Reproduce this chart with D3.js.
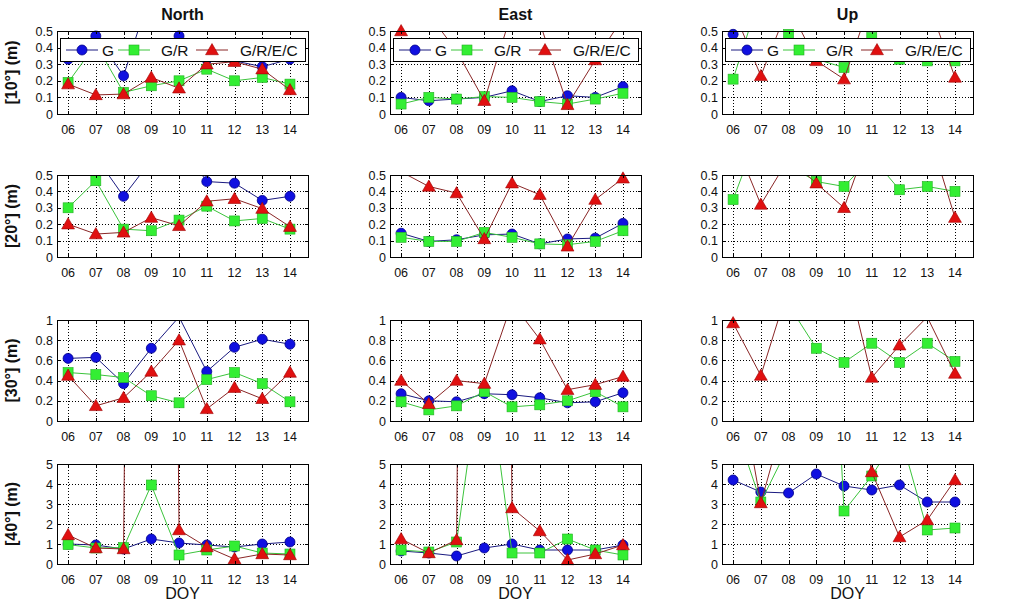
<!DOCTYPE html>
<html><head><meta charset="utf-8">
<script src="https://cdn.jsdelivr.net/npm/d3@7"></script>
<style>
body{margin:0;background:#fff}
svg{display:block}
text{font-family:"Liberation Sans",Arial,sans-serif;fill:#111}
</style>
</head><body><svg id="c" width="1023" height="604"></svg>
<script>
// ---------------- data ----------------
const days = ["06","07","08","09","10","11","12","13","14"];
const components = ["North","East","Up"];
const rowLabels = ["[10°] (m)","[20°] (m)","[30°] (m)","[40°] (m)"];
const seriesNames = ["G","G/R","G/R/E/C"];
const yTicksRow1 = [0,0.1,0.2,0.3,0.4,0.5];
const yTicksRow2 = [0,0.1,0.2,0.3,0.4,0.5];
const yTicksRow3 = [0,0.2,0.4,0.6,0.8,1];
const yTicksRow4 = [0,1,2,3,4,5];
const yTickLabelsRow1 = ["0","0.1","0.2","0.3","0.4","0.5"];
const yTickLabelsRow2 = ["0","0.1","0.2","0.3","0.4","0.5"];
const yTickLabelsRow3 = ["0","0.2","0.4","0.6","0.8","1"];
const yTickLabelsRow4 = ["0","1","2","3","4","5"];

// 10 deg
const north10_G    = [0.33, 0.47, 0.23, 0.75, 0.47, 0.33, 0.32, 0.285, 0.33];
const north10_GR   = [0.19, 0.42, 0.13, 0.17, 0.20, 0.27, 0.20, 0.22, 0.18];
const north10_GREC = [0.18, 0.115, 0.12, 0.22, 0.155, 0.30, 0.315, 0.27, 0.145];
const east10_G     = [0.10, 0.08, 0.09, 0.10, 0.14, 0.075, 0.11, 0.10, 0.165];
const east10_GR    = [0.06, 0.10, 0.09, 0.105, 0.10, 0.075, 0.06, 0.09, 0.125];
const east10_GREC  = [0.50, 0.60, 0.38, 0.08, 0.62, 0.55, 0.055, 0.325, 0.58];
const up10_G       = [0.48, 0.62, 0.75, 0.66, 0.62, 0.70, 0.65, 0.60, 0.58];
const up10_GR      = [0.21, 0.73, 0.48, 0.33, 0.28, 0.46, 0.33, 0.32, 0.32];
const up10_GREC    = [0.63, 0.23, 0.65, 0.32, 0.21, 0.70, 0.75, 0.69, 0.22];
// 20 deg
const north20_G    = [0.65, 0.61, 0.37, 0.59, 0.70, 0.46, 0.45, 0.345, 0.37];
const north20_GR   = [0.30, 0.465, 0.17, 0.16, 0.225, 0.31, 0.22, 0.235, 0.17];
const north20_GREC = [0.20, 0.14, 0.15, 0.24, 0.19, 0.34, 0.355, 0.295, 0.185];
const east20_G     = [0.145, 0.095, 0.105, 0.135, 0.14, 0.08, 0.11, 0.115, 0.205];
const east20_GR    = [0.12, 0.095, 0.095, 0.15, 0.12, 0.08, 0.075, 0.095, 0.16];
const east20_GREC  = [0.52, 0.43, 0.39, 0.11, 0.45, 0.38, 0.065, 0.35, 0.48];
const up20_G       = [0.80, 0.90, 0.85, 0.95, 0.80, 0.85, 0.75, 0.70, 0.75];
const up20_GR      = [0.35, 0.80, 0.56, 0.46, 0.43, 0.61, 0.41, 0.43, 0.40];
const up20_GREC    = [0.73, 0.32, 0.60, 0.45, 0.30, 0.77, 0.80, 0.79, 0.24];
// 30 deg
const north30_G    = [0.62, 0.63, 0.37, 0.72, 1.03, 0.49, 0.73, 0.81, 0.76];
const north30_GR   = [0.48, 0.46, 0.43, 0.25, 0.18, 0.41, 0.48, 0.37, 0.19];
const north30_GREC = [0.45, 0.15, 0.23, 0.49, 0.80, 0.12, 0.33, 0.22, 0.48];
const east30_G     = [0.27, 0.20, 0.19, 0.27, 0.26, 0.23, 0.18, 0.19, 0.28];
const east30_GR    = [0.19, 0.11, 0.15, 0.29, 0.14, 0.16, 0.20, 0.29, 0.14];
const east30_GREC  = [0.40, 0.17, 0.40, 0.37, 1.17, 0.81, 0.31, 0.36, 0.44];
const up30_G       = [1.40, 1.30, 1.50, 1.60, 1.40, 1.35, 1.50, 1.30, 1.40];
const up30_GR      = [1.30, 1.40, 1.15, 0.72, 0.58, 0.77, 0.58, 0.77, 0.59];
const up30_GREC    = [0.97, 0.45, 1.33, 1.40, 1.57, 0.43, 0.75, 1.03, 0.47];
// 40 deg
const north40_G    = [1.0, 0.95, 0.75, 1.25, 1.05, 0.95, 0.85, 1.0, 1.1];
const north40_GR   = [0.97, 0.8, 0.82, 3.95, 0.45, 0.7, 0.9, 0.55, 0.5];
const north40_GREC = [1.45, 0.8, 0.75, 150, 1.7, 0.85, 0.25, 0.5, 0.45];
const east40_G     = [0.65, 0.55, 0.4, 0.8, 1.0, 0.7, 0.7, 0.7, 0.95];
const east40_GR    = [0.7, 0.6, 1.1, 11, 0.55, 0.55, 1.25, 0.7, 0.45];
const east40_GREC  = [1.25, 0.55, 1.2, 150, 2.8, 1.65, 0.2, 0.5, 0.95];
const up40_G       = [4.2, 3.6, 3.55, 4.5, 3.9, 3.7, 3.95, 3.1, 3.1];
const up40_GR      = [7.2, 3.1, 5.9, 29, 2.65, 4.4, 6.6, 1.7, 1.8];
const up40_GREC    = [10.8, 3.05, 8, 9, 12, 4.6, 1.35, 2.2, 4.2];

// ---------------- assemble ----------------
const panelSeries = [
  [[north10_G,north10_GR,north10_GREC],[east10_G,east10_GR,east10_GREC],[up10_G,up10_GR,up10_GREC]],
  [[north20_G,north20_GR,north20_GREC],[east20_G,east20_GR,east20_GREC],[up20_G,up20_GR,up20_GREC]],
  [[north30_G,north30_GR,north30_GREC],[east30_G,east30_GR,east30_GREC],[up30_G,up30_GR,up30_GREC]],
  [[north40_G,north40_GR,north40_GREC],[east40_G,east40_GR,east40_GREC],[up40_G,up40_GR,up40_GREC]]
];
const rowTicks = [yTicksRow1,yTicksRow2,yTicksRow3,yTicksRow4];
const rowTickLabels = [yTickLabelsRow1,yTickLabelsRow2,yTickLabelsRow3,yTickLabelsRow4];

// ---------------- layout & style ----------------
const colLeft = [57, 390, 722];
const panelW = 251;
const rowTop = [31, 175, 320, 464];
const rowH = [83, 82, 101, 100];
const lineColors = ["#1a1a80", "#3cc43c", "#8a2626"];
const markFill = ["#1010e0", "#33ee33", "#e01010"];
const markStroke = ["#00008a", "#22b022", "#a00000"];

const svg = d3.select("#c");
const defs = svg.append("defs");

function drawMarker(g, k, cx, cy) {
  if (k === 0) {
    g.append("circle").attr("cx", cx).attr("cy", cy).attr("r", 5)
      .attr("fill", markFill[0]).attr("stroke", markStroke[0]).attr("stroke-width", 0.8);
  } else if (k === 1) {
    g.append("rect").attr("x", cx - 5).attr("y", cy - 5).attr("width", 10).attr("height", 10)
      .attr("fill", markFill[1]).attr("stroke", markStroke[1]).attr("stroke-width", 0.6);
  } else {
    g.append("path").attr("d", d3.symbol().type(d3.symbolTriangle).size(72)())
      .attr("transform", `translate(${cx},${cy + 1})`)
      .attr("fill", markFill[2]).attr("stroke", markStroke[2]).attr("stroke-width", 0.6);
  }
}

for (let r = 0; r < 4; r++) {
  for (let c = 0; c < 3; c++) {
    const ticks = rowTicks[r];
    const yMax = ticks[ticks.length - 1];
    const W = panelW, H = rowH[r];
    const x = d3.scaleLinear().domain([5.6, 14.65]).range([0, W]);
    const y = d3.scaleLinear().domain([0, yMax]).range([H, 0]);
    const g = svg.append("g").attr("transform", `translate(${colLeft[c]},${rowTop[r]})`);
    const clipId = `clip-${r}-${c}`;
    defs.append("clipPath").attr("id", clipId).append("rect").attr("width", W).attr("height", H);

    // grid
    const grid = g.append("g").attr("stroke", "#000").attr("stroke-width", 1).attr("stroke-dasharray", "1,2");
    days.forEach(d => {
      const xx = Math.round(x(+d)) + 0.5;
      grid.append("line").attr("x1", xx).attr("x2", xx).attr("y1", 0).attr("y2", H);
    });
    ticks.slice(1, -1).forEach(t => {
      const yy = Math.round(y(t)) + 0.5;
      grid.append("line").attr("x1", 0).attr("x2", W).attr("y1", yy).attr("y2", yy);
    });

    // series
    const line = d3.line().x((v, i) => x(+days[i])).y(v => y(v));
    panelSeries[r][c].forEach((vals, k) => {
      g.append("path").attr("d", line(vals)).attr("fill", "none")
        .attr("stroke", lineColors[k]).attr("stroke-width", 1)
        .attr("clip-path", `url(#${clipId})`);
      const mg = g.append("g");
      vals.forEach((v, i) => {
        if (v >= 0 && v <= yMax * 1.001) drawMarker(mg, k, x(+days[i]), y(v));
      });
    });

    // frame
    g.append("rect").attr("x", 0.5).attr("y", 0.5).attr("width", W).attr("height", H)
      .attr("fill", "none").attr("stroke", "#000").attr("stroke-width", 1);
    // tick marks (inward)
    const tk = g.append("g").attr("stroke", "#000").attr("stroke-width", 1);
    days.forEach(d => {
      const xx = Math.round(x(+d)) + 0.5;
      tk.append("line").attr("x1", xx).attr("x2", xx).attr("y1", H).attr("y2", H - 3);
      tk.append("line").attr("x1", xx).attr("x2", xx).attr("y1", 0).attr("y2", 3);
    });
    ticks.forEach(t => {
      const yy = Math.round(y(t)) + 0.5;
      tk.append("line").attr("x1", 0).attr("x2", 3).attr("y1", yy).attr("y2", yy);
      tk.append("line").attr("x1", W).attr("x2", W - 3).attr("y1", yy).attr("y2", yy);
    });

    // tick labels
    ticks.forEach((t, i) => {
      g.append("text").attr("x", -4).attr("y", y(t)).attr("dy", "0.36em")
        .attr("text-anchor", "end").attr("font-size", 12.5).text(rowTickLabels[r][i]);
    });
    days.forEach(d => {
      g.append("text").attr("x", x(+d)).attr("y", H + 20)
        .attr("text-anchor", "middle").attr("font-size", 12.5).text(d);
    });

    if (r === 0) {
      g.append("text").attr("x", W / 2).attr("y", -11).attr("text-anchor", "middle")
        .attr("font-size", 16).attr("font-weight", "bold").text(components[c]);
      // legend
      const lg = g.append("g").attr("transform", "translate(3,7)");
      lg.append("rect").attr("x", 0.5).attr("y", 0.5).attr("width", 245).attr("height", 23)
        .attr("fill", "#fff").attr("stroke", "#000").attr("stroke-width", 1);
      const sx = [6, 58, 136];
      const tx = [42, 101, 180];
      seriesNames.forEach((nm, k) => {
        lg.append("line").attr("x1", sx[k]).attr("x2", sx[k] + 32).attr("y1", 12).attr("y2", 12)
          .attr("stroke", lineColors[k]).attr("stroke-width", 1);
        drawMarker(lg, k, sx[k] + 16, 12);
        lg.append("text").attr("x", tx[k]).attr("y", 12).attr("dy", "0.36em")
          .attr("font-size", 15.5).text(nm);
      });
    }
    if (c === 0) {
      g.append("text").attr("transform", `translate(-40,${H / 2}) rotate(-90)`)
        .attr("text-anchor", "middle").attr("font-size", 16).attr("font-weight", "bold")
        .text(rowLabels[r]);
    }
    if (r === 3) {
      g.append("text").attr("x", W / 2).attr("y", H + 35).attr("text-anchor", "middle")
        .attr("font-size", 16).text("DOY");
    }
  }
}
</script>
</body></html>
